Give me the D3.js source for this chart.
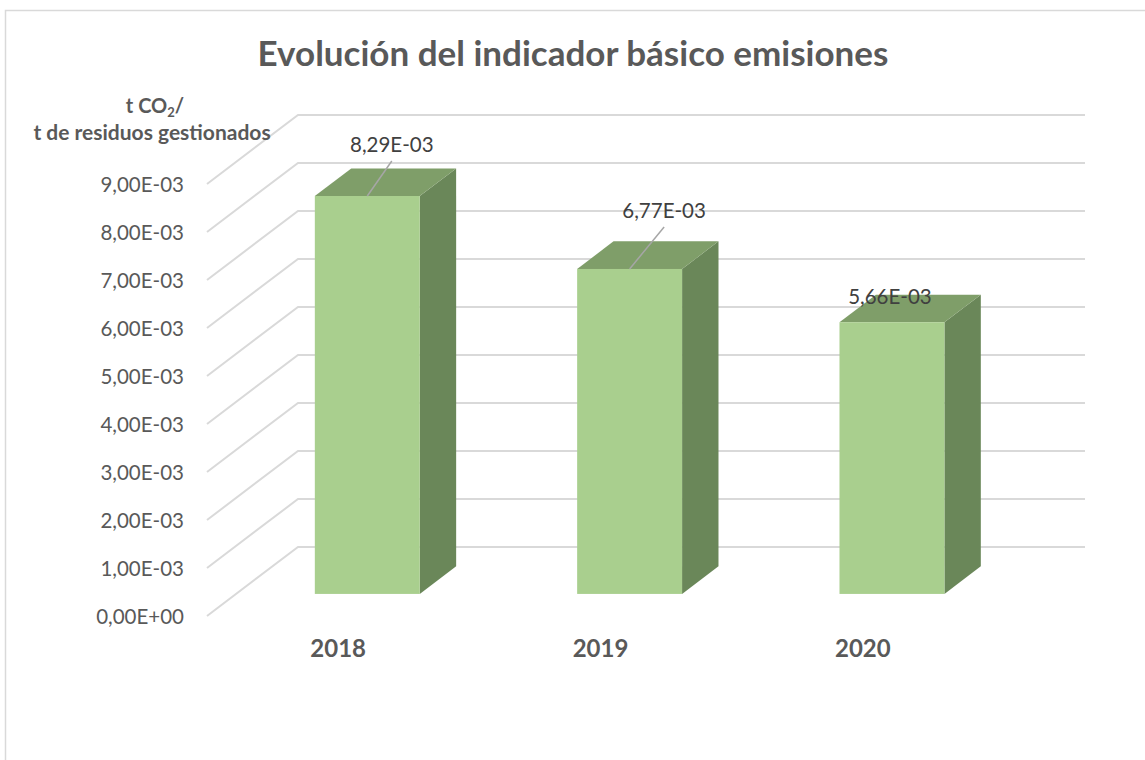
<!DOCTYPE html>
<html><head><meta charset="utf-8">
<script src="https://cdn.jsdelivr.net/npm/d3@7"></script>
<style>html,body{margin:0;padding:0;background:#fff;} text{font-family:Lato,"Open Sans",sans-serif;}</style>
</head><body><svg id="c" width="1145" height="760"></svg>
<script>
const categories = ["2018", "2019", "2020"];
const values = [0.00829, 0.00677, 0.00566];
const valueLabels = ["8,29E-03", "6,77E-03", "5,66E-03"];
const tickValues = [0, 0.001, 0.002, 0.003, 0.004, 0.005, 0.006, 0.007, 0.008, 0.009];
const tickLabels = ["0,00E+00","1,00E-03","2,00E-03","3,00E-03","4,00E-03","5,00E-03","6,00E-03","7,00E-03","8,00E-03","9,00E-03"];
const title = "Evolución del indicador básico emisiones";

// layout (not data)
const labelOffsets = [[24.5,-51,true],[34.5,-58,true],[-2,-26,false]];
const DX = 91, DY = -69;            // full depth projection
const Z0 = 0.32, Z1 = 0.72;        // bar depth range

const svg = d3.select("#c");
svg.append("rect").attr("x",5.5).attr("y",10.5).attr("width",1200).attr("height",900)
  .attr("fill","#fff").attr("stroke","#D9D9D9").attr("stroke-width",1.5);

const y = d3.scaleLinear().domain([0, 0.009]).range([616, 184]);
const x = d3.scaleBand().domain(categories).range([207, 994]).paddingInner(0.6).paddingOuter(0.3);
const P = (px, py, z) => [px + DX*z, py + DY*z];

// gridlines: side wall diagonals + back wall
const g = svg.append("g");
tickValues.forEach(v => {
  const a = P(207, y(v), 0), b = P(207, y(v), 1), c = P(994, y(v), 1);
  g.append("path").attr("d", d3.line()([a,b,c])).attr("fill","none")
   .attr("stroke","#D9D9D9").attr("stroke-width",2);
});

// axis labels
const yAxis = d3.axisLeft(y).tickValues(tickValues).tickFormat((d,i)=>tickLabels[i]).tickSize(0).tickPadding(23);
const ag = svg.append("g").attr("transform","translate(207,0)").call(yAxis);
ag.select(".domain").remove();
ag.selectAll("text").attr("fill","#595959").attr("dy","0.36em")
  .style("font-size","20.5px").style("font-family","Lato,'Open Sans',sans-serif");

// bars
const bars = svg.append("g");
categories.forEach((cat,i) => {
  const x0 = x(cat), x1 = x(cat) + x.bandwidth();
  const yt = y(values[i]), yb = y(0);
  const fl = P(x0,yt,Z0), fr = P(x1,yt,Z0), bl = P(x0,yt,Z1), br = P(x1,yt,Z1);
  const fbr = P(x1,yb,Z0), bbr = P(x1,yb,Z1), fbl = P(x0,yb,Z0);
  bars.append("path").attr("d", d3.line()([fr, br, bbr, fbr]) + "Z").attr("fill","#6A8759");
  bars.append("path").attr("d", d3.line()([fl, fr, br, bl]) + "Z").attr("fill","#7F9E69");
  bars.append("rect").attr("x", fl[0]).attr("y", fl[1]).attr("width", fr[0]-fl[0]).attr("height", fbl[1]-fl[1]).attr("fill","#A9CF8E");
});

// data labels
categories.forEach((cat,i) => {
  const cx = x(cat) + x.bandwidth()/2;
  const top = P(cx, y(values[i]), Z0);
  const o = labelOffsets[i];
  const lx = top[0] + o[0], ly = top[1] + o[1];
  if (o[2]) {
    svg.append("line").attr("x1", top[0]).attr("y1", top[1]).attr("x2", lx).attr("y2", ly + 16)
      .attr("stroke","#A6A6A6").attr("stroke-width",1.5);
  }
  svg.append("text").attr("x", lx).attr("y", ly).attr("dy","0.36em").attr("text-anchor","middle")
    .attr("fill","#404040").style("font-size","20.5px").text(valueLabels[i]);
});

// category labels
svg.append("g").selectAll("text").data(categories).join("text")
  .attr("x", d => x(d) + x.bandwidth()/2).attr("y", 648).attr("dy","0.36em").attr("text-anchor","middle")
  .attr("fill","#595959").style("font-size","24px").style("font-weight","bold").text(d=>d);

// title
svg.append("text").attr("x", 573).attr("y", 66).attr("text-anchor","middle")
  .attr("fill","#595959").style("font-size","35px").style("font-weight","bold").text(title);

// axis title
const at = svg.append("text").attr("x", 155).attr("y", 113).attr("text-anchor","middle")
  .attr("fill","#595959").style("font-size","20px").style("font-weight","bold");
at.append("tspan").text("t CO");
at.append("tspan").attr("dy", 4).style("font-size","13px").text("2");
at.append("tspan").attr("dy", -4).text("/");
svg.append("text").attr("x", 152).attr("y", 140).attr("text-anchor","middle")
  .attr("fill","#595959").style("font-size","21px").style("font-weight","bold").text("t de residuos gestionados");
</script></body></html>
